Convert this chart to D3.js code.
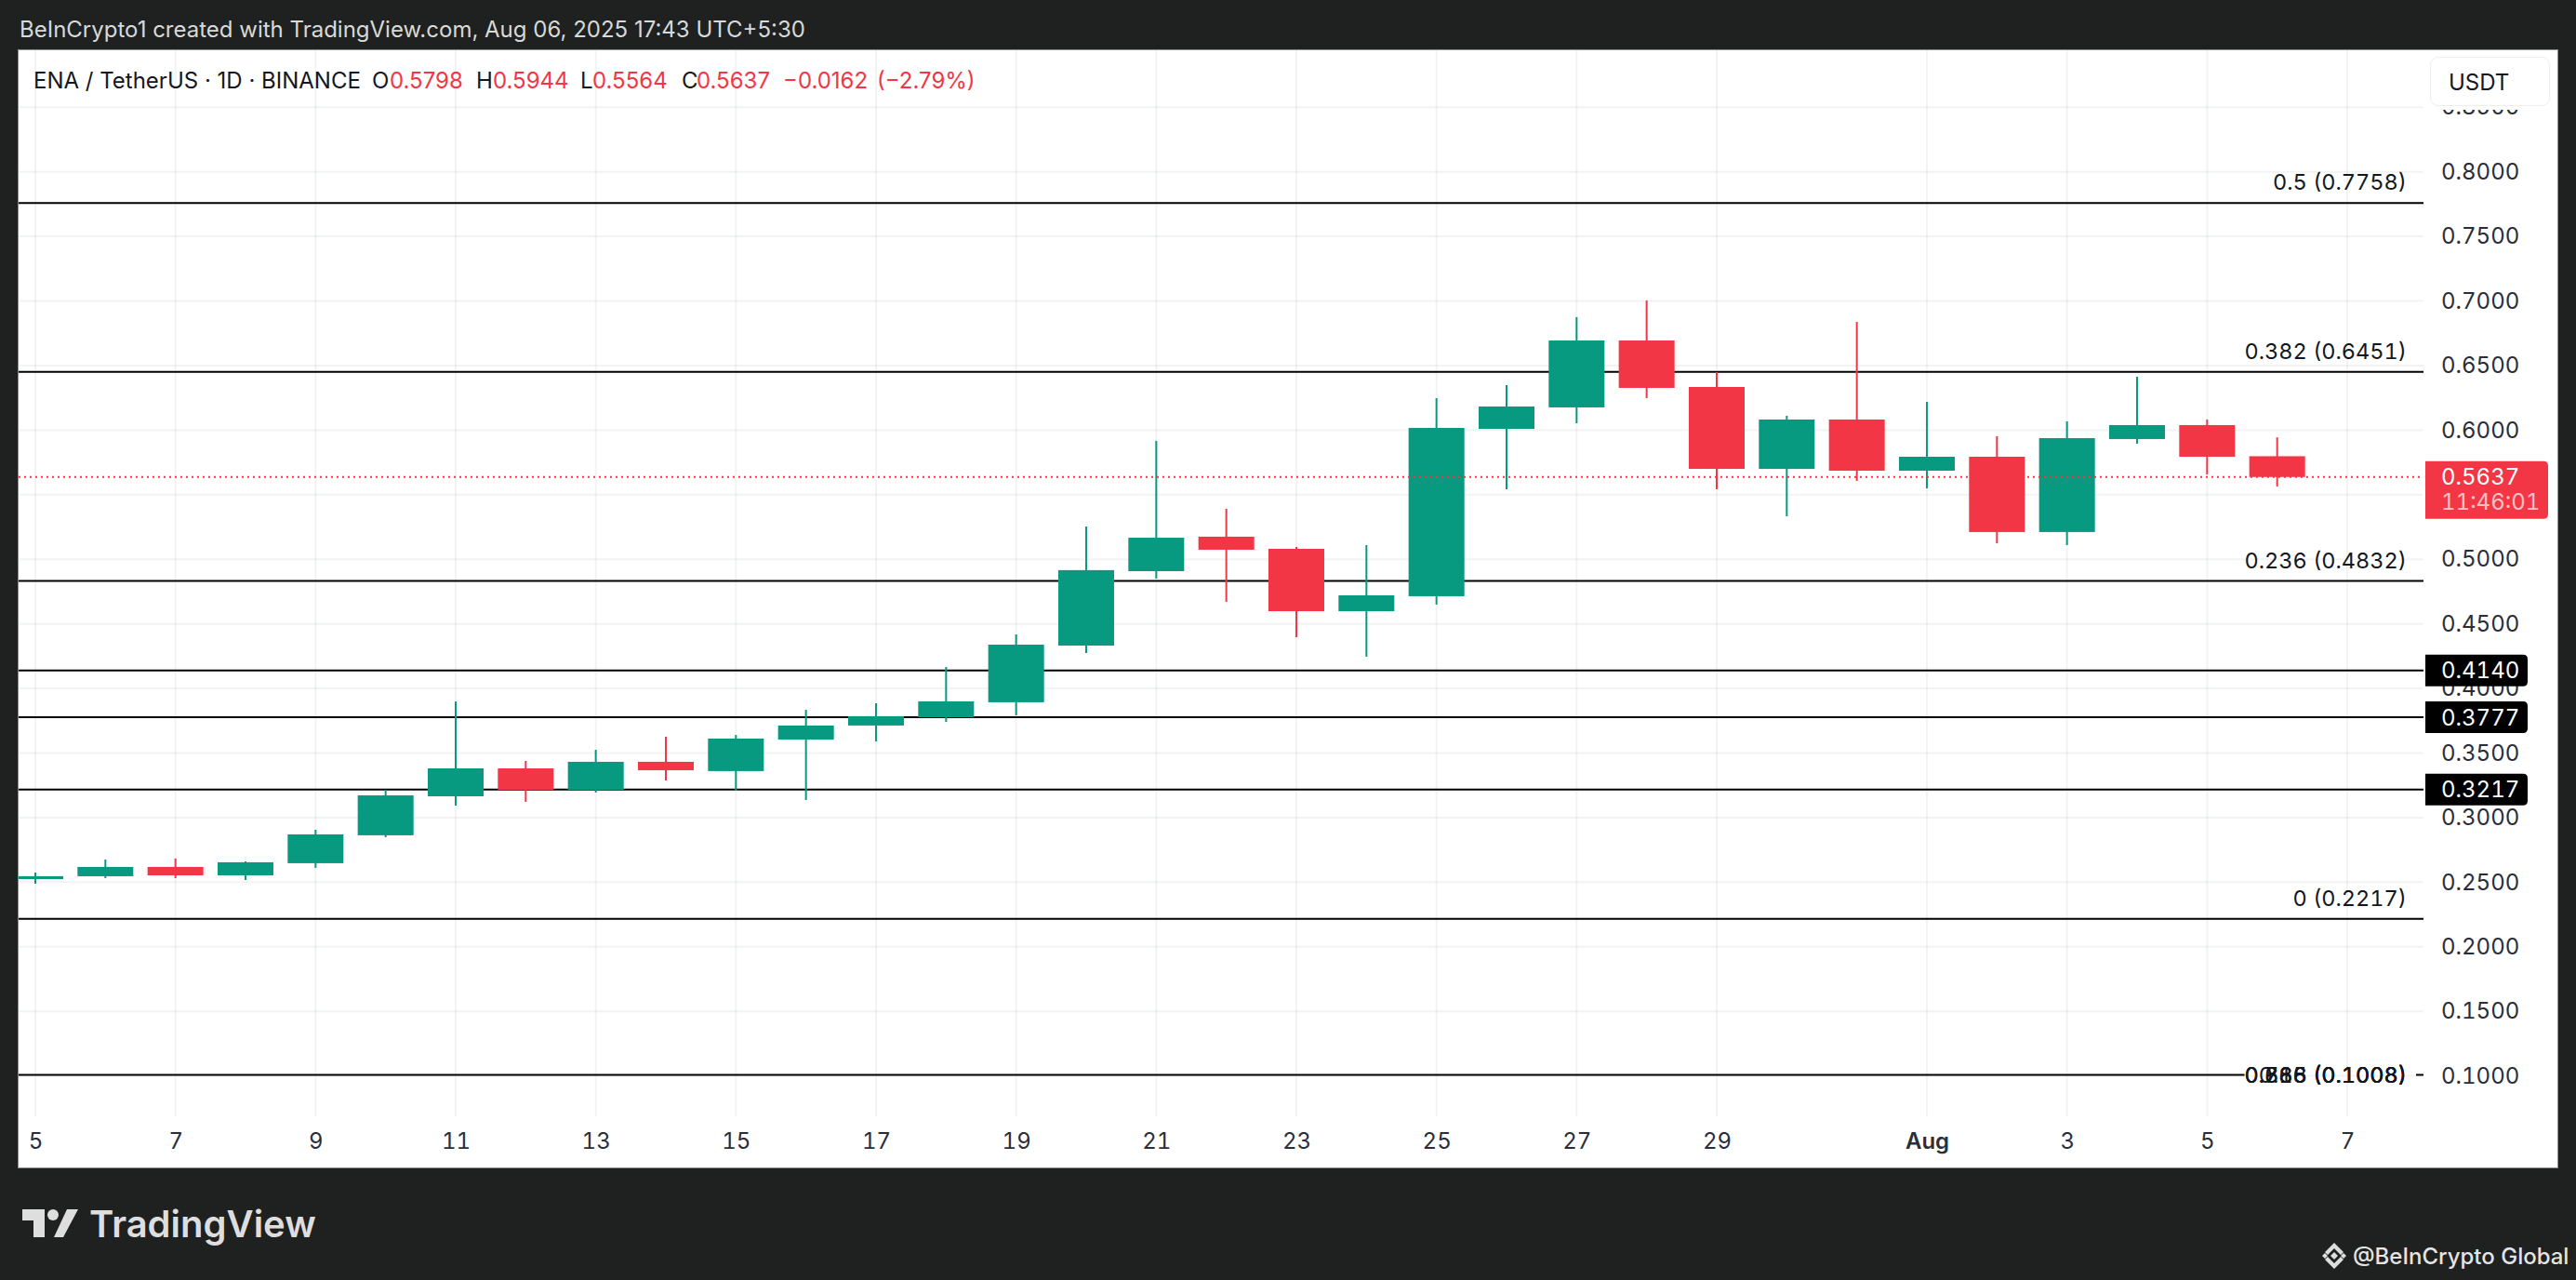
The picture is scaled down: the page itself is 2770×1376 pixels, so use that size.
<!DOCTYPE html>
<html>
<head>
<meta charset="utf-8">
<script src="https://cdn.jsdelivr.net/npm/d3@7"></script>
<style>
  html, body { margin: 0; padding: 0; background: #1e2120; overflow: hidden; }
  svg { display: block; }
  text { font-family: Inter, sans-serif; font-variant-numeric: tabular-nums; }
</style>
</head>
<body>
<svg id="chart" width="2770" height="1376"></svg>
<script>
// daily candles, Jul 5 - Aug 6 2025
const dates = ['2025-07-05','2025-07-06','2025-07-07','2025-07-08','2025-07-09','2025-07-10','2025-07-11','2025-07-12','2025-07-13','2025-07-14','2025-07-15','2025-07-16','2025-07-17','2025-07-18','2025-07-19','2025-07-20','2025-07-21','2025-07-22','2025-07-23','2025-07-24','2025-07-25','2025-07-26','2025-07-27','2025-07-28','2025-07-29','2025-07-30','2025-07-31','2025-08-01','2025-08-02','2025-08-03','2025-08-04','2025-08-05','2025-08-06'];
const opens  = [.2524,.2546,.2618,.2553,.2647,.2863,.3165,.3381,.3215,.3432,.3360,.3604,.3713,.3777,.3893,.4332,.4908,.5175,.5081,.4598,.4714,.6010,.6176,.6694,.6334,.5700,.6082,.5686,.5794,.5211,.5931,.6039,.5798];
const highs  = [.2575,.2675,.2683,.2661,.2906,.3215,.3900,.3439,.3525,.3626,.3640,.3835,.3886,.4166,.4418,.5254,.5917,.5391,.5095,.5110,.6248,.6349,.6875,.7004,.6450,.6111,.6838,.6219,.5953,.6068,.6414,.6082,.5944];
const lows   = [.2488,.2531,.2531,.2517,.2611,.2848,.3093,.3122,.3194,.3288,.3208,.3136,.3590,.3741,.3792,.4274,.4851,.4671,.4397,.4246,.4649,.5542,.6053,.6248,.5542,.5333,.5607,.5549,.5124,.5110,.5895,.5657,.5564];
const closes = [.2546,.2618,.2553,.2654,.2870,.3172,.3381,.3215,.3432,.3367,.3612,.3713,.3785,.3900,.4339,.4916,.5167,.5074,.4598,.4721,.6017,.6183,.6694,.6327,.5700,.6082,.5686,.5794,.5211,.5938,.6039,.5794,.5637];

const priceTicks = [.85,.8,.75,.7,.65,.6,.55,.5,.45,.4,.35,.3,.25,.2,.15,.1];
const dayTicks = ['2025-07-05','2025-07-07','2025-07-09','2025-07-11','2025-07-13','2025-07-15','2025-07-17','2025-07-19','2025-07-21','2025-07-23','2025-07-25','2025-07-27','2025-07-29','2025-08-01','2025-08-03','2025-08-05','2025-08-07'];

// horizontal lines drawn on the chart
const labelledLevels = [.7758,.6451,.4832,.2217];
const labelledNames = ['0.5 (0.7758)','0.382 (0.6451)','0.236 (0.4832)','0 (0.2217)'];
const taggedLevels = [.4140,.3777,.3217];
const bottomLevel = .1008;
const bottomNames = ['0.618 (0.1008)','0.65 (0.1008)','0.786 (0.1008)','0.886 (0.1008)'];
const lastPrice = .5637;

const green = '#089981', red = '#f23645';
const parseDay = d3.utcParse('%Y-%m-%d');

const panel = { left: 20, top: 54, right: 2750, bottom: 1255 };
const plotRight = 2606, plotBottom = 1200;

const x = d3.scaleUtc()
  .domain([parseDay('2025-07-05'), parseDay('2025-08-07')])
  .range([38, 2524]);
const y = d3.scaleLinear()
  .domain([.1, .8])
  .range([1156.6, 184.7]);

const candles = dates.map((d, i) => ({
  date: parseDay(d), open: opens[i], high: highs[i], low: lows[i], close: closes[i]
}));

const svg = d3.select('#chart');

svg.append('defs').append('clipPath').attr('id', 'plot-clip')
  .append('rect')
  .attr('x', panel.left).attr('y', panel.top)
  .attr('width', plotRight - panel.left).attr('height', plotBottom - panel.top);

// page frame
svg.append('rect').attr('width', 2770).attr('height', 1376).attr('fill', '#1e2120');
svg.append('rect')
  .attr('x', panel.left - 0.5).attr('y', panel.top - 0.5)
  .attr('width', panel.right - panel.left + 1).attr('height', panel.bottom - panel.top + 1)
  .attr('fill', '#fff').attr('stroke', '#8a8c8c').attr('stroke-width', 1);

svg.append('text')
  .attr('x', 21).attr('y', 40)
  .attr('font-size', 24).attr('fill', '#d8d9d9')
  .style('font-variant-numeric', 'normal')
  .text('BeInCrypto1 created with TradingView.com, Aug 06, 2025 17:43 UTC+5:30');

// grid
const plot = svg.append('g').attr('clip-path', 'url(#plot-clip)');
const gridColor = 'rgba(42,46,57,0.06)';
plot.append('g').selectAll('line').data(dayTicks).enter().append('line')
  .attr('x1', d => x(parseDay(d))).attr('x2', d => x(parseDay(d)))
  .attr('y1', panel.top).attr('y2', plotBottom)
  .attr('stroke', gridColor).attr('stroke-width', 2);
plot.append('g').selectAll('line').data(priceTicks).enter().append('line')
  .attr('x1', panel.left).attr('x2', plotRight)
  .attr('y1', d => y(d)).attr('y2', d => y(d))
  .attr('stroke', gridColor).attr('stroke-width', 2);

// level lines
const fullLevels = labelledLevels.concat(taggedLevels);
plot.append('g').selectAll('line').data(fullLevels).enter().append('line')
  .attr('x1', panel.left).attr('x2', plotRight)
  .attr('y1', d => y(d)).attr('y2', d => y(d))
  .attr('stroke', '#000').attr('stroke-width', 2);

// candles
const bodyW = 60;
const candle = plot.append('g').selectAll('g').data(candles).enter().append('g')
  .attr('fill', d => d.close >= d.open ? green : red)
  .attr('stroke', d => d.close >= d.open ? green : red);
candle.append('line')
  .attr('x1', d => x(d.date)).attr('x2', d => x(d.date))
  .attr('y1', d => y(d.high)).attr('y2', d => y(d.low))
  .attr('stroke-width', 2);
candle.append('rect')
  .attr('stroke', 'none')
  .attr('x', d => x(d.date) - bodyW / 2)
  .attr('width', bodyW)
  .attr('y', d => y(Math.max(d.open, d.close)))
  .attr('height', d => Math.abs(y(d.open) - y(d.close)));

// last price line
plot.append('line')
  .attr('x1', panel.left).attr('x2', plotRight)
  .attr('y1', y(lastPrice)).attr('y2', y(lastPrice))
  .attr('stroke', red).attr('stroke-width', 2).attr('stroke-dasharray', '2 4');

// level labels
svg.append('g').selectAll('text').data(labelledLevels).enter().append('text')
  .attr('x', 2588).attr('y', d => y(d) - 22.5)
  .attr('dy', '0.36em').attr('text-anchor', 'end')
  .attr('font-size', 23.5).attr('fill', '#131722')
  .text((d, i) => labelledNames[i]);

const bottomText = svg.append('g').selectAll('text').data(bottomNames).enter().append('text')
  .attr('x', 2588).attr('y', y(bottomLevel))
  .attr('dy', '0.36em').attr('text-anchor', 'end')
  .attr('font-size', 23.5).attr('fill', '#131722')
  .text(d => d);

// the bottom line breaks around its label
const gapStart = 2588 - d3.max(bottomText.nodes(), n => n.getComputedTextLength());
plot.append('line')
  .attr('x1', panel.left).attr('x2', gapStart)
  .attr('y1', y(bottomLevel)).attr('y2', y(bottomLevel))
  .attr('stroke', '#000').attr('stroke-width', 2);
plot.append('line')
  .attr('x1', 2598).attr('x2', plotRight)
  .attr('y1', y(bottomLevel)).attr('y2', y(bottomLevel))
  .attr('stroke', '#000').attr('stroke-width', 2);

// price axis
const yAxis = d3.axisRight(y)
  .tickValues(priceTicks)
  .tickFormat(d3.format('.4f'))
  .tickSize(0)
  .tickPadding(0);
const yAxisG = svg.append('g')
  .attr('transform', `translate(2625,0)`)
  .call(yAxis);
yAxisG.select('.domain').remove();
yAxisG.selectAll('text')
  .style('font-family', 'Inter, sans-serif')
  .attr('font-size', 24).attr('fill', '#2a2e39');

// time axis
const xAxis = d3.axisBottom(x)
  .tickValues(dayTicks.map(parseDay))
  .tickFormat(d => d.getUTCDate() === 1 ? 'Aug' : d.getUTCDate())
  .tickSize(0)
  .tickPadding(0);
const xAxisG = svg.append('g')
  .attr('transform', 'translate(0,1218)')
  .call(xAxis);
xAxisG.select('.domain').remove();
xAxisG.selectAll('text')
  .style('font-family', 'Inter, sans-serif')
  .attr('font-size', 24).attr('fill', '#2a2e39')
  .attr('font-weight', d => d.getUTCDate() === 1 ? 600 : 400);

// price tags sit on top of the axis labels
const tags = svg.append('g').selectAll('g').data(taggedLevels).enter().append('g')
  .attr('transform', d => `translate(2608,${y(d)})`);
tags.append('path')
  .attr('d', 'M0,-17 H105 Q110,-17 110,-12 V12 Q110,17 105,17 H0 Z')
  .attr('fill', '#000');
tags.append('text')
  .attr('x', 17).attr('dy', '0.36em')
  .attr('font-size', 24).attr('fill', '#fff')
  .text(d => d3.format('.4f')(d));

const lastTag = svg.append('g').attr('transform', `translate(2608,${y(lastPrice)})`);
lastTag.append('path')
  .attr('d', 'M0,-17 H127 Q132,-17 132,-12 V40 Q132,45 127,45 H0 Z')
  .attr('fill', red);
lastTag.append('text')
  .attr('x', 17).attr('dy', '0.36em')
  .attr('font-size', 24).attr('fill', '#fff')
  .text(d3.format('.4f')(lastPrice));
lastTag.append('text')
  .attr('x', 17).attr('y', 27).attr('dy', '0.36em')
  .attr('font-size', 24).attr('fill', 'rgba(255,255,255,0.7)')
  .text('11:46:01');

// legend
const legendParts = [
  ['ENA / TetherUS · 1D · BINANCE', 36, '#131722'],
  ['O', 400, '#131722'], ['0.5798', 419, red],
  ['H', 512, '#131722'], ['0.5944', 530, red],
  ['L', 624, '#131722'], ['0.5564', 637, red],
  ['C', 733, '#131722'], ['0.5637', 749, red],
  ['−0.0162', 842, red], ['(−2.79%)', 943, red]
];
svg.append('g').selectAll('text').data(legendParts).enter().append('text')
  .attr('x', d => d[1]).attr('y', 86).attr('dy', '0.36em')
  .attr('font-size', 24).attr('fill', d => d[2])
  .style('font-variant-numeric', 'normal')
  .text(d => d[0]);

// currency button, hides the top of the 0.8500 label
svg.append('rect')
  .attr('x', 2607).attr('y', 55).attr('width', 142).attr('height', 63)
  .attr('fill', '#fff');
svg.append('rect')
  .attr('x', 2613.5).attr('y', 61.5).attr('width', 128).attr('height', 52).attr('rx', 8)
  .attr('fill', '#fff').attr('stroke', '#eeeeee').attr('stroke-width', 1);
svg.append('text')
  .attr('x', 2633).attr('y', 88).attr('dy', '0.36em')
  .attr('font-size', 24).attr('fill', '#131722')
  .text('USDT');

// TradingView logo
const logo = svg.append('g').attr('fill', '#dedede');
logo.append('path').attr('d', 'M24,1300 H48 V1330 H36 V1312 H24 Z');
logo.append('circle').attr('cx', 57).attr('cy', 1306).attr('r', 6);
logo.append('path').attr('d', 'M72,1300 H84 L68,1330 H58 Z');
logo.append('text')
  .attr('x', 96).attr('y', 1330)
  .attr('font-size', 40).attr('font-weight', 600)
  .text('TradingView');

// BeInCrypto mark and handle
const mark = svg.append('g').attr('fill', '#dedede').attr('transform', 'translate(2510,1350)');
mark.append('path').attr('d', 'M0,-14 L10,-4 L7,-1 L0,-8 L-7,-1 L-10,-4 Z');
mark.append('path').attr('d', 'M0,14 L10,4 L7,1 L0,8 L-7,1 L-10,4 Z');
mark.append('path').attr('d', 'M0,-4 L4,0 L0,4 L-4,0 Z');
mark.append('path').attr('d', 'M-10,-3 L-7,0 L-10,3 L-13,0 Z');
mark.append('path').attr('d', 'M10,-3 L13,0 L10,3 L7,0 Z');
svg.append('text')
  .attr('x', 2530).attr('y', 1350).attr('dy', '0.36em')
  .attr('font-size', 24).attr('font-weight', 500).attr('fill', '#e4e4e4')
  .text('@BeInCrypto Global');
</script>
</body>
</html>
